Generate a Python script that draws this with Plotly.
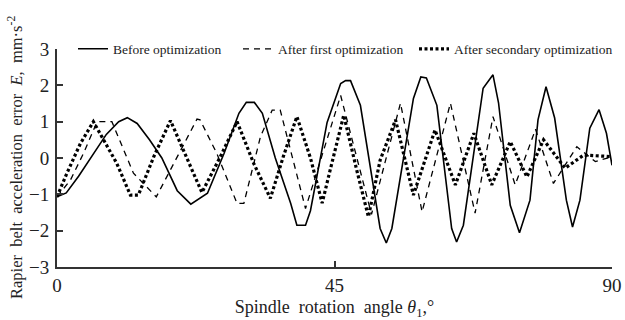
import plotly.graph_objects as go

# Before optimization (solid)
before_x = [0, 1.5, 3.5, 5.5, 8, 10, 11.4, 13, 15, 17, 19.5, 21.7, 24.4, 27.1, 29.5, 30.7, 32.0, 33.3,
            35.4, 37.9, 38.9, 40.3, 41.1, 43.8, 46.0, 46.8, 47.6, 49.2, 52.4, 53.4, 54.3, 57.8, 59.0, 59.9,
            61.6, 64.0, 64.8, 65.9, 69.1, 70.7, 71.6, 73.5, 75.0, 76.7, 78.0, 79.3, 80.7, 82.6, 83.6,
            84.8, 86.4, 87.9, 89.1, 90.0]
before_y = [-1.07, -0.96, -0.5, 0.0, 0.65, 1.0, 1.11, 0.95, 0.5, 0.0, -0.9, -1.27, -0.97, 0.13, 1.23, 1.53, 1.53, 1.23,
            0.0, -1.25, -1.85, -1.85, -1.45, 0.98, 2.05, 2.13, 2.13, 1.45, -1.94, -2.34, -1.94, 1.64, 2.23, 2.2,
            1.45, -1.94, -2.31, -1.85, 1.92, 2.29, 1.52, -1.3, -2.06, -1.16, 1.05, 1.96, 1.1, -1.16, -1.9,
            -1.16, 0.82, 1.33, 0.68, -0.2]

# After first optimization (dashed)
first_x = [0, 2.2, 4.3, 6.5, 8.9, 12.4, 16.1, 19.5, 22.7, 23.2, 25.9, 29.2, 30.3, 33.0, 34.9, 36.2, 38.4,
           40.3, 46.0, 51.0, 55.7, 59.2, 63.8, 67.8, 70.7, 74.3, 77.6, 80.5, 84.3, 87.3, 89.7]
first_y = [-1.07, -0.6, 0.13, 1.0, 1.0, -0.42, -1.07, 0.04, 1.07, 1.05, 0.13, -1.25, -1.25, 0.59, 1.32, 1.32, -0.15,
           -1.39, 1.72, -1.55, 1.51, -1.48, 1.51, -1.52, 1.14, -0.74, 0.79, -0.7, 0.31, -0.1, 0.02]

# After secondary optimization (dotted)
second_x = [0, 1.6, 3.8, 5.9, 9.7, 11.9, 13.2, 15.7, 18.4, 23.5, 26.5, 29.2, 31.9, 34.6, 36.7, 38.9, 41.1,
            43.0, 44.3, 46.5, 48.6, 50.5, 52.4, 54.9, 57.8, 61.3, 64.6, 67.6, 70.5, 73.5, 76.2, 78.9,
            82.4, 85.4, 89.7]
second_y = [-1.07, -0.42, 0.4, 1.0, -0.15, -1.02, -1.02, 0.04, 1.03, -0.95, 0.04, 1.0, -0.15, -1.11, 0.04, 1.14, 0.0,
            -1.24, -0.33, 1.18, -0.33, -1.62, -0.06, 1.05, -1.02, 0.77, -0.74, 0.68, -0.74, 0.45, -0.52, 0.5,
            -0.28, 0.08, 0.04]

x_ticks = [0, 45, 90]
y_ticks = [-3, -2, -1, 0, 1, 2, 3]

FONT = "Liberation Serif"
L, R = 57, 13
PW = 625 - L - R


def lx(px):
    return (px - L) / PW


fig = go.Figure()
fig.add_trace(go.Scatter(x=before_x, y=before_y, mode="lines", name="Before optimization",
                         line=dict(color="black", width=1.6), legend="legend2"))
fig.add_trace(go.Scatter(x=first_x, y=first_y, mode="lines", name="After first optimization",
                         line=dict(color="black", width=1.3, dash="6px,5px"), legend="legend3"))
fig.add_trace(go.Scatter(x=second_x, y=second_y, mode="lines", name="After secondary optimization",
                         line=dict(color="black", width=3.2, dash="3px,2.5px"), legend="legend4"))

leg_common = dict(orientation="h", y=1.0, xanchor="left", yanchor="middle",
                  font=dict(family=FONT, size=13.5, color="#222"), itemwidth=30,
                  bgcolor="rgba(255,255,255,0)")

fig.update_layout(
    width=625, height=320,
    margin=dict(l=L, r=R, t=49, b=53, autoexpand=False),
    paper_bgcolor="white", plot_bgcolor="white",
    font=dict(family=FONT, color="#222"),
    legend2=dict(x=lx(73), **leg_common),
    legend3=dict(x=lx(238), **leg_common),
    legend4=dict(x=lx(414), **leg_common),
    xaxis=dict(range=[0, 90], tickvals=x_ticks, ticks="inside", ticklen=6, tickwidth=1.5,
               tickcolor="#333", showline=True, linecolor="#333", linewidth=2, showgrid=False,
               zeroline=False, automargin=False, tickfont=dict(family=FONT, size=19, color="#222"),
               title=dict(text="Spindle  rotation  angle <i>θ</i><sub>1</sub>,°",
                          font=dict(family=FONT, size=18, color="#222"), standoff=6)),
    yaxis=dict(range=[-3, 3], tickvals=y_ticks, ticks="inside", ticklen=6, tickwidth=1.5,
               tickcolor="#333", showline=True, linecolor="#333", linewidth=2, showgrid=False,
               zeroline=False, automargin=False, tickfont=dict(family=FONT, size=19, color="#222"),
               ticklabelstandoff=2),
)

fig.add_annotation(text="Rapier  belt  acceleration  error  <i>E</i>,  mm·s<sup>-2</sup>",
                   xref="paper", yref="paper", x=lx(15), y=0.5, xanchor="center", yanchor="middle",
                   textangle=-90, showarrow=False, font=dict(family=FONT, size=16.5, color="#222"))

fig.write_html("out.html")
